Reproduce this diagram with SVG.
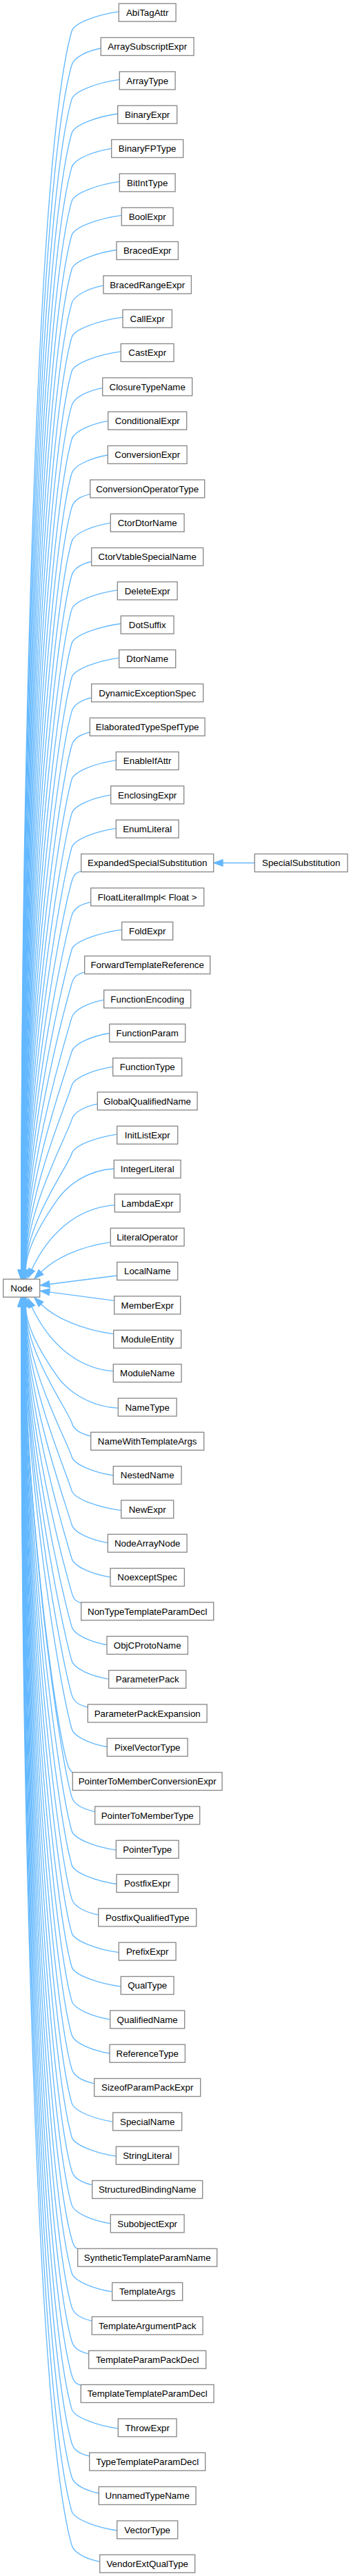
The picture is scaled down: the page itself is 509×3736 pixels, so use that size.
<svg xmlns="http://www.w3.org/2000/svg" width="509" height="3736" viewBox="0 0 509 3736">
<style>
.n rect{fill:#fff;stroke:#888;stroke-width:1.33}
.n text{font-family:"Liberation Sans",Arial,sans-serif;font-size:13.33px;text-anchor:middle;fill:#000}
.e path{fill:none;stroke:#63b8ff;stroke-width:1.33;marker-end:url(#a)}
</style>
<defs>
<marker id="a" markerUnits="userSpaceOnUse" markerWidth="16" markerHeight="12" refX="1" refY="6" orient="auto" viewBox="0 0 16 12"><path d="M1,1.33 L14.3,6 L1,10.67 z" fill="#63b8ff" stroke="#63b8ff" stroke-width="1.33"/></marker>
</defs>
<rect width="509" height="3736" fill="#fff"/>
<g id="edges" class="e">
<g transform="translate(0,1868.2)">
<path d="M172.3,-1851.4C141.6,-1847.1 107.4,-1835 104,-1823C52.6,-1643.4 30.6,-745.1 30.6,-26.5"/>
<path d="M146.3,-1798.2C127.3,-1794.5 107.4,-1785.7 104,-1773.7C54,-1599 30.8,-725.4 30.8,-26.5"/>
<path d="M173.3,-1752.8C142.1,-1748.5 107.4,-1736.3 104,-1724.3C55.4,-1554.6 31,-705.6 31,-26.5"/>
<path d="M170.7,-1703.2C140.7,-1699 107.4,-1687 104,-1675C56.9,-1510.2 31.2,-685.9 31.2,-26.5"/>
<path d="M161.7,-1652.8C135.7,-1648.7 107.4,-1637.7 104,-1625.7C58.3,-1465.8 31.4,-666.2 31.4,-26.5"/>
<path d="M173.3,-1604.8C142.1,-1600.5 107.4,-1588.3 104,-1576.3C59.7,-1421.4 31.6,-646.4 31.6,-26.5"/>
<path d="M176.3,-1555.9C143.8,-1551.6 107.4,-1539 104,-1527C61.1,-1377 31.8,-626.7 31.8,-26.5"/>
<path d="M169,-1505.7C139.8,-1501.5 107.4,-1489.7 104,-1477.7C62.5,-1332.6 32,-607 32,-26.5"/>
<path d="M150,-1454C129.3,-1450.1 107.4,-1440.3 104,-1428.3C63.9,-1288.2 32.2,-587.2 32.2,-26.5"/>
<path d="M178,-1408.1C144.7,-1403.7 107.4,-1391 104,-1379C65.3,-1243.8 32.4,-567.5 32.4,-26.5"/>
<path d="M175.3,-1358.4C143.2,-1354.1 107.4,-1341.7 104,-1329.7C66.7,-1199.4 32.6,-547.8 32.6,-26.5"/>
<path d="M148.7,-1305.6C128.6,-1301.8 107.4,-1292.3 104,-1280.3C68.1,-1155 32.8,-528 32.8,-26.5"/>
<path d="M156.7,-1257.5C133,-1253.5 107.4,-1243 104,-1231C69.6,-1110.6 33,-508.3 33,-26.5"/>
<path d="M156.3,-1208.2C132.8,-1204.2 107.4,-1193.7 104,-1181.7C71,-1066.2 33.2,-488.6 33.2,-26.5"/>
<path d="M130.7,-1151.6C118.7,-1148.7 107.4,-1144.3 104,-1132.3C72.4,-1021.8 33.4,-468.8 33.4,-26.5"/>
<path d="M160.3,-1109.9C135,-1105.9 107.4,-1095 104,-1083C73.8,-977.4 33.6,-449.1 33.6,-26.5"/>
<path d="M132.7,-1053.7C119.8,-1050.7 107.4,-1045.7 104,-1033.7C75.2,-933 33.8,-429.4 33.8,-26.5"/>
<path d="M170.3,-1012.4C140.5,-1008.2 107.4,-996.3 104,-984.3C76.6,-888.6 34,-409.6 34,-26.5"/>
<path d="M175.3,-963.7C143.2,-959.4 107.4,-947 104,-935C78,-844.2 34.2,-389.9 34.2,-26.5"/>
<path d="M172.7,-914.1C141.8,-909.8 107.4,-897.7 104,-885.7C79.4,-799.8 34.4,-370.2 34.4,-26.5"/>
<path d="M132.7,-856.3C119.8,-853.3 107.4,-848.3 104,-836.3C80.8,-755.4 34.6,-350.4 34.6,-26.5"/>
<path d="M130.3,-806.2C118.5,-803.3 107.4,-799 104,-787C82.3,-711 34.8,-330.7 34.8,-26.5"/>
<path d="M168.3,-765.6C139.4,-761.4 107.4,-749.7 104,-737.7C83.7,-666.6 35,-311 35,-26.5"/>
<path d="M160.7,-715.3C135.2,-711.2 107.4,-700.3 104,-688.3C85.1,-622.2 35.2,-291.2 35.2,-26.5"/>
<path d="M168.3,-666.9C139.4,-662.7 107.4,-651 104,-639C86.5,-577.8 35.4,-271.5 35.4,-26.5"/>
<path d="M117.7,-604.7C111.5,-602.4 107.4,-601.7 104,-589.7C87.9,-533.4 35.6,-251.8 35.6,-26.5"/>
<path d="M131.7,-560C119.2,-557 107.4,-552.3 104,-540.3C89.3,-489 35.8,-232 35.8,-26.5"/>
<path d="M176.7,-519.9C144,-515.6 107.4,-503 104,-491C90.7,-444.6 36,-212.3 36,-26.5"/>
<path d="M122.7,-458.4C114.3,-455.9 107.4,-453.7 104,-441.7C92.1,-400.2 36.2,-192.6 36.2,-26.5"/>
<path d="M150.7,-418.1C129.7,-414.2 107.4,-404.3 104,-392.3C93.5,-355.8 36.4,-172.8 36.4,-26.5"/>
<path d="M158.7,-369.7C134.1,-365.7 107.4,-355 104,-343C95,-311.4 36.6,-153.1 36.6,-26.5"/>
<path d="M163.7,-321C136.8,-316.9 107.4,-305.7 104,-293.7C96.4,-267 36.8,-133.4 36.8,-26.5"/>
<path d="M141.3,-267.1C124.5,-263.7 107.4,-256.3 104,-244.3C97.8,-222.6 37,-113.6 37,-26.5"/>
<path d="M169.7,-223.1C140.1,-218.9 107.4,-207 104,-195C99.2,-178.2 37.2,-93.9 37.2,-26.5"/>
<path d="M165.3,-173.2C125,-171 97,-148 83,-128C69,-108 37.4,-60 37.4,-26.5"/>
<path d="M166.3,-120.5C110,-116 70,-78 46,-27"/>
<path d="M160.3,-66.5C115,-60.2 80,-43.2 59.5,-23.2"/>
<path d="M169.7,-18.2L71.7,-5.7"/>
</g>
<g transform="matrix(1,0,0,-1,0,1868.2)">
<path d="M165.7,-18.2L71.7,-5.7"/>
<path d="M164.7,-66.5C118,-60.2 80,-43.2 59.5,-23.2"/>
<path d="M164.3,-120.5C110,-116 70,-78 46,-27"/>
<path d="M171.3,-174C128,-171.5 97,-148 83,-128C69,-108 37.4,-60 37.4,-26.5"/>
<path d="M131.7,-214.7C119.2,-211.7 107.4,-207 104,-195C99.2,-178.2 37.2,-93.9 37.2,-26.5"/>
<path d="M164.3,-271.7C137.2,-267.6 107.4,-256.3 104,-244.3C97.8,-222.6 37,-113.6 37,-26.5"/>
<path d="M175.7,-322.5C143.4,-318.2 107.4,-305.7 104,-293.7C96.4,-267 36.8,-133.4 36.8,-26.5"/>
<path d="M156.3,-369.5C132.8,-365.5 107.4,-355 104,-343C95,-311.4 36.6,-153.1 36.6,-26.5"/>
<path d="M160,-419.2C134.8,-415.2 107.4,-404.3 104,-392.3C93.5,-355.8 36.4,-172.8 36.4,-26.5"/>
<path d="M117.7,-456.7C111.5,-454.4 107.4,-453.7 104,-441.7C92.1,-400.2 36.2,-192.6 36.2,-26.5"/>
<path d="M155,-517.3C132.1,-513.4 107.4,-503 104,-491C90.7,-444.6 36,-212.3 36,-26.5"/>
<path d="M157.7,-566.9C133.5,-562.9 107.4,-552.3 104,-540.3C89.3,-489 35.8,-232 35.8,-26.5"/>
<path d="M127.3,-607.9C116.8,-605.2 107.4,-601.7 104,-589.7C87.9,-533.4 35.6,-251.8 35.6,-26.5"/>
<path d="M155.3,-665.3C132.2,-661.4 107.4,-651 104,-639C86.5,-577.8 35.4,-271.5 35.4,-26.5"/>
<path d="M105.3,-702.8C103.5,-700.6 100.7,-700.3 97.3,-688.3C78.4,-622.2 35.2,-291.2 35.2,-26.5"/>
<path d="M137.7,-759.3C122.5,-756.1 107.4,-749.7 104,-737.7C83.7,-666.6 35,-311 35,-26.5"/>
<path d="M168.3,-814.9C139.4,-810.7 107.4,-799 104,-787C82.3,-711 34.8,-330.7 34.8,-26.5"/>
<path d="M169,-864.3C139.8,-860.1 107.4,-848.3 104,-836.3C80.8,-755.4 34.6,-350.4 34.6,-26.5"/>
<path d="M142.7,-909C125.3,-905.5 107.4,-897.7 104,-885.7C79.4,-799.8 34.4,-370.2 34.4,-26.5"/>
<path d="M172.3,-963.4C141.6,-959.1 107.4,-947 104,-935C78,-844.2 34.2,-389.9 34.2,-26.5"/>
<path d="M175.3,-1013C143.2,-1008.7 107.4,-996.3 104,-984.3C76.6,-888.6 34,-409.6 34,-26.5"/>
<path d="M159.7,-1060.6C134.6,-1056.6 107.4,-1045.7 104,-1033.7C75.2,-933 33.8,-429.4 33.8,-26.5"/>
<path d="M159,-1109.8C134.3,-1105.8 107.4,-1095 104,-1083C73.8,-977.4 33.6,-449.1 33.6,-26.5"/>
<path d="M136.7,-1153.6C122,-1150.4 107.4,-1144.3 104,-1132.3C72.4,-1021.8 33.4,-468.8 33.4,-26.5"/>
<path d="M163.7,-1209C136.8,-1204.9 107.4,-1193.7 104,-1181.7C71,-1066.2 33.2,-488.6 33.2,-26.5"/>
<path d="M168.3,-1258.9C139.4,-1254.7 107.4,-1243 104,-1231C69.6,-1110.6 33,-508.3 33,-26.5"/>
<path d="M133.7,-1300.6C120.3,-1297.6 107.4,-1292.3 104,-1280.3C68.1,-1155 32.8,-528 32.8,-26.5"/>
<path d="M160.3,-1356.6C135,-1352.6 107.4,-1341.7 104,-1329.7C66.7,-1199.4 32.6,-547.8 32.6,-26.5"/>
<path d="M112.7,-1393.5C108.8,-1391.3 107.4,-1391 104,-1379C65.3,-1243.8 32.4,-567.5 32.4,-26.5"/>
<path d="M162.7,-1455.5C136.3,-1451.4 107.4,-1440.3 104,-1428.3C63.9,-1288.2 32.2,-587.2 32.2,-26.5"/>
<path d="M133.3,-1497.9C120.1,-1494.9 107.4,-1489.7 104,-1477.7C62.5,-1332.6 32,-607 32,-26.5"/>
<path d="M128.7,-1545.7C117.6,-1542.9 107.4,-1539 104,-1527C61.1,-1377 31.8,-626.7 31.8,-26.5"/>
<path d="M117.3,-1591.2C111.3,-1589 107.4,-1588.3 104,-1576.3C59.7,-1421.4 31.6,-646.4 31.6,-26.5"/>
<path d="M171.3,-1654C141,-1649.7 107.4,-1637.7 104,-1625.7C58.3,-1465.8 31.4,-666.2 31.4,-26.5"/>
<path d="M129.7,-1694C118.1,-1691.1 107.4,-1687 104,-1675C56.9,-1510.2 31.2,-685.9 31.2,-26.5"/>
<path d="M143.3,-1747.8C125.6,-1744.3 107.4,-1736.3 104,-1724.3C55.4,-1554.6 31,-705.6 31,-26.5"/>
<path d="M169.7,-1801.8C140.1,-1797.6 107.4,-1785.7 104,-1773.7C54,-1599 30.8,-725.4 30.8,-26.5"/>
<path d="M144.7,-1846.9C126.4,-1843.3 107.4,-1835 104,-1823C52.6,-1643.4 30.6,-745.1 30.6,-26.5"/>
</g>
<path d="M369.3,1251.5L323,1251.5"/>
</g>
<g id="node-Node" class="n"><rect x="4.7" y="1855.2" width="53" height="26"/><text x="31.2" y="1872.8">Node</text></g>
<g id="node-SpecialSubstitution" class="n"><rect x="369.3" y="1238.5" width="134.7" height="26"/><text x="436.7" y="1256.1">SpecialSubstitution</text></g>
<g id="node-AbiTagAttr" class="n"><rect x="172.3" y="5.2" width="82.8" height="26"/><text x="213.7" y="22.8">AbiTagAttr</text></g>
<g id="node-ArraySubscriptExpr" class="n"><rect x="146.3" y="54.5" width="134.8" height="26"/><text x="213.7" y="72.1">ArraySubscriptExpr</text></g>
<g id="node-ArrayType" class="n"><rect x="173.3" y="103.9" width="80.8" height="26"/><text x="213.7" y="121.5">ArrayType</text></g>
<g id="node-BinaryExpr" class="n"><rect x="170.7" y="153.2" width="86" height="26"/><text x="213.7" y="170.8">BinaryExpr</text></g>
<g id="node-BinaryFPType" class="n"><rect x="161.7" y="202.5" width="104" height="26"/><text x="213.7" y="220.1">BinaryFPType</text></g>
<g id="node-BitIntType" class="n"><rect x="173.3" y="251.9" width="80.8" height="26"/><text x="213.7" y="269.5">BitIntType</text></g>
<g id="node-BoolExpr" class="n"><rect x="176.3" y="301.2" width="74.8" height="26"/><text x="213.7" y="318.8">BoolExpr</text></g>
<g id="node-BracedExpr" class="n"><rect x="169" y="350.5" width="89.4" height="26"/><text x="213.7" y="368.1">BracedExpr</text></g>
<g id="node-BracedRangeExpr" class="n"><rect x="150" y="399.9" width="127.4" height="26"/><text x="213.7" y="417.5">BracedRangeExpr</text></g>
<g id="node-CallExpr" class="n"><rect x="178" y="449.2" width="71.4" height="26"/><text x="213.7" y="466.8">CallExpr</text></g>
<g id="node-CastExpr" class="n"><rect x="175.3" y="498.5" width="76.8" height="26"/><text x="213.7" y="516.1">CastExpr</text></g>
<g id="node-ClosureTypeName" class="n"><rect x="148.7" y="547.9" width="130" height="26"/><text x="213.7" y="565.5">ClosureTypeName</text></g>
<g id="node-ConditionalExpr" class="n"><rect x="156.7" y="597.2" width="114" height="26"/><text x="213.7" y="614.8">ConditionalExpr</text></g>
<g id="node-ConversionExpr" class="n"><rect x="156.3" y="646.5" width="114.8" height="26"/><text x="213.7" y="664.1">ConversionExpr</text></g>
<g id="node-ConversionOperatorType" class="n"><rect x="130.7" y="695.9" width="166" height="26"/><text x="213.7" y="713.5">ConversionOperatorType</text></g>
<g id="node-CtorDtorName" class="n"><rect x="160.3" y="745.2" width="106.8" height="26"/><text x="213.7" y="762.8">CtorDtorName</text></g>
<g id="node-CtorVtableSpecialName" class="n"><rect x="132.7" y="794.5" width="162" height="26"/><text x="213.7" y="812.1">CtorVtableSpecialName</text></g>
<g id="node-DeleteExpr" class="n"><rect x="170.3" y="843.9" width="86.8" height="26"/><text x="213.7" y="861.5">DeleteExpr</text></g>
<g id="node-DotSuffix" class="n"><rect x="175.3" y="893.2" width="76.8" height="26"/><text x="213.7" y="910.8">DotSuffix</text></g>
<g id="node-DtorName" class="n"><rect x="172.7" y="942.5" width="82" height="26"/><text x="213.7" y="960.1">DtorName</text></g>
<g id="node-DynamicExceptionSpec" class="n"><rect x="132.7" y="991.9" width="162" height="26"/><text x="213.7" y="1009.5">DynamicExceptionSpec</text></g>
<g id="node-ElaboratedTypeSpefType" class="n"><rect x="130.3" y="1041.2" width="166.8" height="26"/><text x="213.7" y="1058.8">ElaboratedTypeSpefType</text></g>
<g id="node-EnableIfAttr" class="n"><rect x="168.3" y="1090.5" width="90.8" height="26"/><text x="213.7" y="1108.1">EnableIfAttr</text></g>
<g id="node-EnclosingExpr" class="n"><rect x="160.7" y="1139.9" width="106" height="26"/><text x="213.7" y="1157.5">EnclosingExpr</text></g>
<g id="node-EnumLiteral" class="n"><rect x="168.3" y="1189.2" width="90.8" height="26"/><text x="213.7" y="1206.8">EnumLiteral</text></g>
<g id="node-ExpandedSpecialSubstitution" class="n"><rect x="117.7" y="1238.5" width="192" height="26"/><text x="213.7" y="1256.1">ExpandedSpecialSubstitution</text></g>
<g id="node-FloatLiteralImpl" class="n"><rect x="131.7" y="1287.9" width="164" height="26"/><text x="213.7" y="1305.5">FloatLiteralImpl&lt; Float &gt;</text></g>
<g id="node-FoldExpr" class="n"><rect x="176.7" y="1337.2" width="74" height="26"/><text x="213.7" y="1354.8">FoldExpr</text></g>
<g id="node-ForwardTemplateReference" class="n"><rect x="122.7" y="1386.5" width="182" height="26"/><text x="213.7" y="1404.1">ForwardTemplateReference</text></g>
<g id="node-FunctionEncoding" class="n"><rect x="150.7" y="1435.9" width="126" height="26"/><text x="213.7" y="1453.5">FunctionEncoding</text></g>
<g id="node-FunctionParam" class="n"><rect x="158.7" y="1485.2" width="110" height="26"/><text x="213.7" y="1502.8">FunctionParam</text></g>
<g id="node-FunctionType" class="n"><rect x="163.7" y="1534.5" width="100" height="26"/><text x="213.7" y="1552.1">FunctionType</text></g>
<g id="node-GlobalQualifiedName" class="n"><rect x="141.3" y="1583.9" width="144.8" height="26"/><text x="213.7" y="1601.5">GlobalQualifiedName</text></g>
<g id="node-InitListExpr" class="n"><rect x="169.7" y="1633.2" width="88" height="26"/><text x="213.7" y="1650.8">InitListExpr</text></g>
<g id="node-IntegerLiteral" class="n"><rect x="165.3" y="1682.5" width="96.8" height="26"/><text x="213.7" y="1700.1">IntegerLiteral</text></g>
<g id="node-LambdaExpr" class="n"><rect x="166.3" y="1731.9" width="94.8" height="26"/><text x="213.7" y="1749.5">LambdaExpr</text></g>
<g id="node-LiteralOperator" class="n"><rect x="160.3" y="1781.2" width="106.8" height="26"/><text x="213.7" y="1798.8">LiteralOperator</text></g>
<g id="node-LocalName" class="n"><rect x="169.7" y="1830.5" width="88" height="26"/><text x="213.7" y="1848.1">LocalName</text></g>
<g id="node-MemberExpr" class="n"><rect x="165.7" y="1879.9" width="96" height="26"/><text x="213.7" y="1897.5">MemberExpr</text></g>
<g id="node-ModuleEntity" class="n"><rect x="164.7" y="1929.2" width="98" height="26"/><text x="213.7" y="1946.8">ModuleEntity</text></g>
<g id="node-ModuleName" class="n"><rect x="164.3" y="1978.5" width="98.8" height="26"/><text x="213.7" y="1996.1">ModuleName</text></g>
<g id="node-NameType" class="n"><rect x="171.3" y="2027.9" width="84.8" height="26"/><text x="213.7" y="2045.5">NameType</text></g>
<g id="node-NameWithTemplateArgs" class="n"><rect x="131.7" y="2077.2" width="164" height="26"/><text x="213.7" y="2094.8">NameWithTemplateArgs</text></g>
<g id="node-NestedName" class="n"><rect x="164.3" y="2126.5" width="98.8" height="26"/><text x="213.7" y="2144.1">NestedName</text></g>
<g id="node-NewExpr" class="n"><rect x="175.7" y="2175.9" width="76" height="26"/><text x="213.7" y="2193.5">NewExpr</text></g>
<g id="node-NodeArrayNode" class="n"><rect x="156.3" y="2225.2" width="114.8" height="26"/><text x="213.7" y="2242.8">NodeArrayNode</text></g>
<g id="node-NoexceptSpec" class="n"><rect x="160" y="2274.5" width="107.4" height="26"/><text x="213.7" y="2292.1">NoexceptSpec</text></g>
<g id="node-NonTypeTemplateParamDecl" class="n"><rect x="117.7" y="2323.9" width="192" height="26"/><text x="213.7" y="2341.5">NonTypeTemplateParamDecl</text></g>
<g id="node-ObjCProtoName" class="n"><rect x="155" y="2373.2" width="117.4" height="26"/><text x="213.7" y="2390.8">ObjCProtoName</text></g>
<g id="node-ParameterPack" class="n"><rect x="157.7" y="2422.5" width="112" height="26"/><text x="213.7" y="2440.1">ParameterPack</text></g>
<g id="node-ParameterPackExpansion" class="n"><rect x="127.3" y="2471.9" width="172.8" height="26"/><text x="213.7" y="2489.5">ParameterPackExpansion</text></g>
<g id="node-PixelVectorType" class="n"><rect x="155.3" y="2521.2" width="116.8" height="26"/><text x="213.7" y="2538.8">PixelVectorType</text></g>
<g id="node-PointerToMemberConversionExpr" class="n"><rect x="105.3" y="2570.5" width="216.8" height="26"/><text x="213.7" y="2588.1">PointerToMemberConversionExpr</text></g>
<g id="node-PointerToMemberType" class="n"><rect x="137.7" y="2619.9" width="152" height="26"/><text x="213.7" y="2637.5">PointerToMemberType</text></g>
<g id="node-PointerType" class="n"><rect x="168.3" y="2669.2" width="90.8" height="26"/><text x="213.7" y="2686.8">PointerType</text></g>
<g id="node-PostfixExpr" class="n"><rect x="169" y="2718.5" width="89.4" height="26"/><text x="213.7" y="2736.1">PostfixExpr</text></g>
<g id="node-PostfixQualifiedType" class="n"><rect x="142.7" y="2767.9" width="142" height="26"/><text x="213.7" y="2785.5">PostfixQualifiedType</text></g>
<g id="node-PrefixExpr" class="n"><rect x="172.3" y="2817.2" width="82.8" height="26"/><text x="213.7" y="2834.8">PrefixExpr</text></g>
<g id="node-QualType" class="n"><rect x="175.3" y="2866.5" width="76.8" height="26"/><text x="213.7" y="2884.1">QualType</text></g>
<g id="node-QualifiedName" class="n"><rect x="159.7" y="2915.9" width="108" height="26"/><text x="213.7" y="2933.5">QualifiedName</text></g>
<g id="node-ReferenceType" class="n"><rect x="159" y="2965.2" width="109.4" height="26"/><text x="213.7" y="2982.8">ReferenceType</text></g>
<g id="node-SizeofParamPackExpr" class="n"><rect x="136.7" y="3014.5" width="154" height="26"/><text x="213.7" y="3032.1">SizeofParamPackExpr</text></g>
<g id="node-SpecialName" class="n"><rect x="163.7" y="3063.9" width="100" height="26"/><text x="213.7" y="3081.5">SpecialName</text></g>
<g id="node-StringLiteral" class="n"><rect x="168.3" y="3113.2" width="90.8" height="26"/><text x="213.7" y="3130.8">StringLiteral</text></g>
<g id="node-StructuredBindingName" class="n"><rect x="133.7" y="3162.5" width="160" height="26"/><text x="213.7" y="3180.1">StructuredBindingName</text></g>
<g id="node-SubobjectExpr" class="n"><rect x="160.3" y="3211.9" width="106.8" height="26"/><text x="213.7" y="3229.5">SubobjectExpr</text></g>
<g id="node-SyntheticTemplateParamName" class="n"><rect x="112.7" y="3261.2" width="202" height="26"/><text x="213.7" y="3278.8">SyntheticTemplateParamName</text></g>
<g id="node-TemplateArgs" class="n"><rect x="162.7" y="3310.5" width="102" height="26"/><text x="213.7" y="3328.1">TemplateArgs</text></g>
<g id="node-TemplateArgumentPack" class="n"><rect x="133.3" y="3359.9" width="160.8" height="26"/><text x="213.7" y="3377.5">TemplateArgumentPack</text></g>
<g id="node-TemplateParamPackDecl" class="n"><rect x="128.7" y="3409.2" width="170" height="26"/><text x="213.7" y="3426.8">TemplateParamPackDecl</text></g>
<g id="node-TemplateTemplateParamDecl" class="n"><rect x="117.3" y="3458.5" width="192.8" height="26"/><text x="213.7" y="3476.1">TemplateTemplateParamDecl</text></g>
<g id="node-ThrowExpr" class="n"><rect x="171.3" y="3507.9" width="84.8" height="26"/><text x="213.7" y="3525.5">ThrowExpr</text></g>
<g id="node-TypeTemplateParamDecl" class="n"><rect x="129.7" y="3557.2" width="168" height="26"/><text x="213.7" y="3574.8">TypeTemplateParamDecl</text></g>
<g id="node-UnnamedTypeName" class="n"><rect x="143.3" y="3606.5" width="140.8" height="26"/><text x="213.7" y="3624.1">UnnamedTypeName</text></g>
<g id="node-VectorType" class="n"><rect x="169.7" y="3655.9" width="88" height="26"/><text x="213.7" y="3673.5">VectorType</text></g>
<g id="node-VendorExtQualType" class="n"><rect x="144.7" y="3705.2" width="138" height="26"/><text x="213.7" y="3722.8">VendorExtQualType</text></g>
</svg>
